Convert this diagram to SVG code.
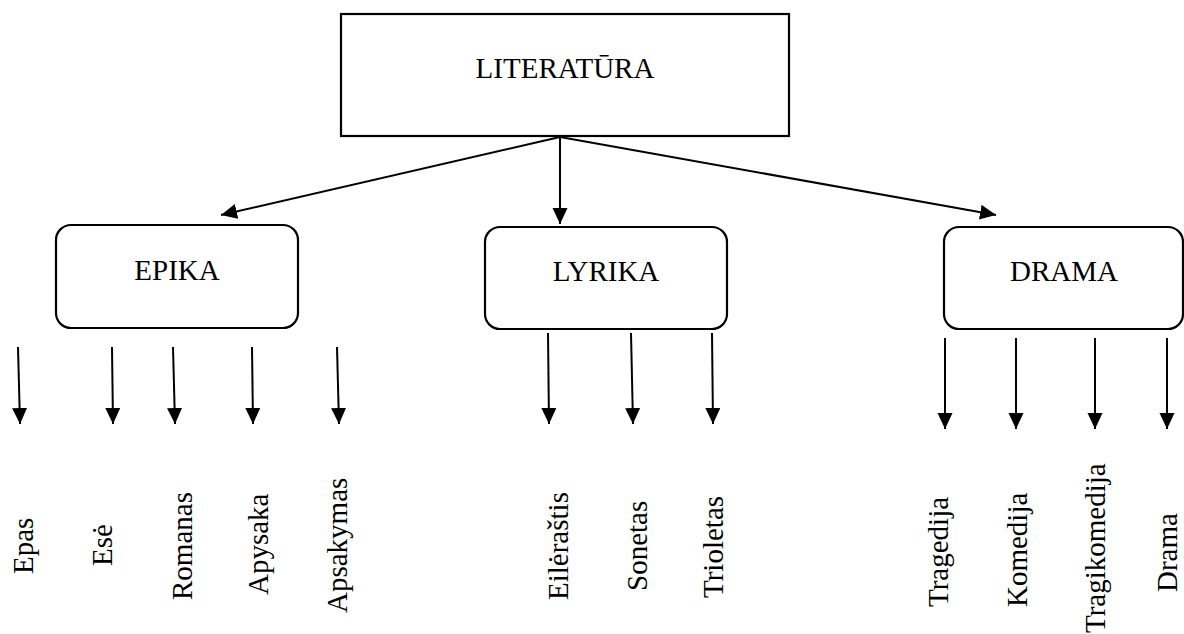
<svg xmlns="http://www.w3.org/2000/svg" width="1184" height="634" viewBox="0 0 1184 634">
<style>
.box{fill:#fff;stroke:#000;stroke-width:2.2}
.lbl{font-family:"Liberation Serif","Times New Roman",serif;font-size:29px;fill:#000}
.c{text-anchor:middle}
.conn line{stroke:#000;stroke-width:2;marker-end:url(#ah)}
</style>
<defs>
<marker id="ah" markerUnits="userSpaceOnUse" markerWidth="17" markerHeight="16" refX="16" refY="7.5" orient="auto">
<path d="M0,0 L16,7.5 L0,15 z" fill="#000"/>
</marker>
</defs>
<rect width="1184" height="634" fill="#fff"/>
<g id="literatura">
<rect class="box" x="341" y="14" width="448" height="122"/>
<text class="lbl c" x="565" y="78">LITERATŪRA</text>
</g>
<g id="epika">
<rect class="box" x="56" y="225" width="242" height="103" rx="15"/>
<text class="lbl c" x="177" y="280">EPIKA</text>
</g>
<g id="lyrika">
<rect class="box" x="485" y="227" width="242" height="102" rx="15"/>
<text class="lbl c" x="606" y="281">LYRIKA</text>
</g>
<g id="drama">
<rect class="box" x="944" y="227" width="239" height="102" rx="15"/>
<text class="lbl c" x="1064" y="281">DRAMA</text>
</g>
<g class="conn" id="connectors">
<line x1="560" y1="137" x2="221" y2="215"/>
<line x1="560" y1="137" x2="560" y2="224"/>
<line x1="560" y1="137" x2="996" y2="215"/>
<line x1="18" y1="347" x2="20" y2="424"/>
<line x1="112" y1="347" x2="113" y2="424"/>
<line x1="173" y1="347" x2="175" y2="424"/>
<line x1="252" y1="347" x2="253" y2="424"/>
<line x1="337" y1="347" x2="339" y2="424"/>
<line x1="548" y1="333" x2="549" y2="424"/>
<line x1="631" y1="333" x2="633" y2="424"/>
<line x1="712" y1="333" x2="713" y2="424"/>
<line x1="945" y1="338" x2="945" y2="429"/>
<line x1="1016" y1="338" x2="1016" y2="429"/>
<line x1="1095" y1="338" x2="1095" y2="429"/>
<line x1="1167" y1="338" x2="1167" y2="429"/>
</g>
<g id="leaves">
<text id="t-epas" class="lbl" transform="translate(33,574) rotate(-90)">Epas</text>
<text id="t-ese" class="lbl" transform="translate(112,566) rotate(-90)">Esė</text>
<text id="t-romanas" class="lbl" transform="translate(192,600) rotate(-90)">Romanas</text>
<text id="t-apysaka" class="lbl" transform="translate(268,595) rotate(-90)">Apysaka</text>
<text id="t-apsakymas" class="lbl" transform="translate(347,613) rotate(-90)">Apsakymas</text>
<text id="t-eilerastis" class="lbl" transform="translate(568,600) rotate(-90)">Eilėraštis</text>
<text id="t-sonetas" class="lbl" transform="translate(647,591) rotate(-90)">Sonetas</text>
<text id="t-trioletas" class="lbl" transform="translate(723,598) rotate(-90)">Trioletas</text>
<text id="t-tragedija" class="lbl" transform="translate(948,607) rotate(-90)">Tragedija</text>
<text id="t-komedija" class="lbl" transform="translate(1027,607) rotate(-90)">Komedija</text>
<text id="t-tragikomedija" class="lbl" transform="translate(1105,633) rotate(-90)">Tragikomedija</text>
<text id="t-drama" class="lbl" transform="translate(1177,592) rotate(-90)">Drama</text>
</g>
</svg>
